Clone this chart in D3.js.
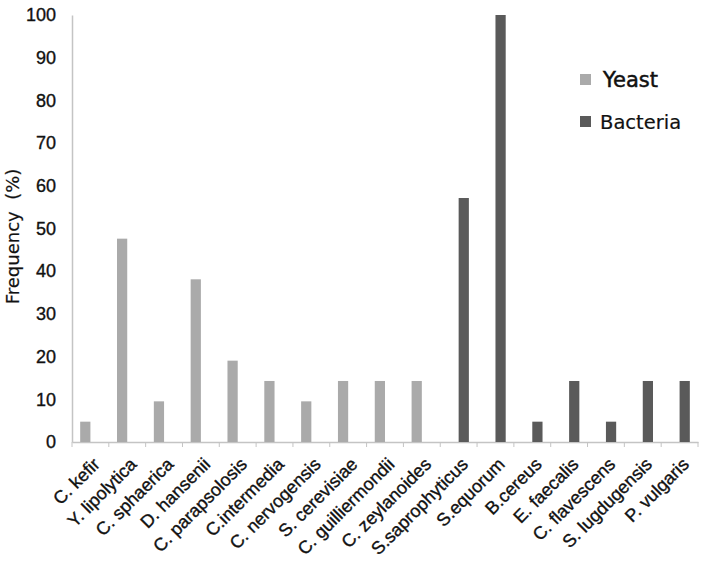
<html>
<head>
  <meta charset="utf-8">
  <title>Frequency of yeast and bacteria</title>
  <style>
    body { margin: 0; background: #fff; }
    .axis text { font: 18px "Liberation Sans", Arial, sans-serif; fill: #111; stroke: #111; stroke-width: 0.35px; }
  </style>
  <script src="https://d3js.org/d3.v7.min.js"></script>
</head>
<body>
  <div id="chart"></div>
  <script>
    // species on the x axis
    var species = ["C. kefir", "Y. lipolytica", "C. sphaerica", "D. hansenii", "C. parapsolosis",
      "C.intermedia", "C. nervogensis", "S. cerevisiae", "C. guilliermondii", "C. zeylanoides",
      "S.saprophyticus", "S.equorum", "B.cereus", "E. faecalis", "C. flavescens", "S. lugdugensis", "P. vulgaris"];

    // frequency (%) per series, null where the series has no bar
    var yeast = [4.76, 47.62, 9.52, 38.1, 19.05, 14.29, 9.52, 14.29, 14.29, 14.29,
      null, null, null, null, null, null, null];
    var bacteria = [null, null, null, null, null, null, null, null, null, null,
      57.14, 100, 4.76, 14.29, 4.76, 14.29, 14.29];

    var seriesNames = ["Yeast", "Bacteria"];
    var yTicks = [0, 10, 20, 30, 40, 50, 60, 70, 80, 90, 100];

    var margin = { top: 15, right: 10, bottom: 132, left: 72 },
        width = 708 - margin.left - margin.right,
        height = 574 - margin.top - margin.bottom;

    var svg = d3.select("#chart").append("svg")
        .attr("width", 708)
        .attr("height", 574)
      .append("g")
        .attr("transform", "translate(" + margin.left + "," + margin.top + ")");

    var x0 = d3.scaleBand().domain(species).range([0, width]).padding(0);
    var x1 = d3.scaleBand().domain(seriesNames).range([0, x0.bandwidth()])
        .paddingInner(0).paddingOuter(0.8);
    var y = d3.scaleLinear().domain([0, 100]).range([height, 0]);

    var color = d3.scaleOrdinal().domain(seriesNames).range(["#aaaaaa", "#5a5a5a"]);

    // y axis (line only, no ticks)
    var yAxis = svg.append("g")
        .attr("class", "axis")
        .call(d3.axisLeft(y).tickValues(yTicks).tickSize(0).tickPadding(16));
    yAxis.select(".domain").attr("stroke", "#c4c4c4").attr("stroke-width", 1.5);

    // x axis with ticks at the band edges
    var xAxis = svg.append("g")
        .attr("class", "axis")
        .attr("transform", "translate(0," + height + ")")
        .call(d3.axisBottom(x0).tickSize(0).tickSizeOuter(0));
    xAxis.select(".domain").attr("stroke", "#c4c4c4").attr("stroke-width", 1.5);
    xAxis.selectAll(".tick text")
        .attr("text-anchor", "end")
        .attr("transform", "translate(6,19) rotate(-45)")
        .attr("dy", "0.35em")
        .attr("y", 0);

    svg.append("g").selectAll("line")
        .data(d3.range(species.length + 1))
        .enter().append("line")
        .attr("x1", function(i) { return i * x0.step(); })
        .attr("x2", function(i) { return i * x0.step(); })
        .attr("y1", height)
        .attr("y2", height + 5)
        .attr("stroke", "#c4c4c4");

    // bars
    var rows = species.map(function(s, i) {
      return { name: s, values: [
        { series: "Yeast", value: yeast[i] },
        { series: "Bacteria", value: bacteria[i] }
      ] };
    });

    var groups = svg.selectAll(".group")
        .data(rows)
        .enter().append("g")
        .attr("class", "group")
        .attr("transform", function(d) { return "translate(" + x0(d.name) + ",0)"; });

    groups.selectAll("rect")
        .data(function(d) { return d.values.filter(function(v) { return v.value != null; }); })
        .enter().append("rect")
        .attr("x", function(d) { return x1(d.series); })
        .attr("y", function(d) { return y(d.value); })
        .attr("width", x1.bandwidth())
        .attr("height", function(d) { return height - y(d.value); })
        .attr("fill", function(d) { return color(d.series); });

    // y label
    svg.append("text")
        .attr("transform", "translate(" + (-53) + "," + (height / 2 + 8) + ") rotate(-90)")
        .attr("text-anchor", "middle")
        .style("font", "18px 'DejaVu Sans', sans-serif")
        .style("white-space", "pre")
        .attr("fill", "#111")
        .attr("stroke", "#111")
        .attr("stroke-width", 0.2)
        .text("Frequency  (%)");

    // legend
    var legend = svg.selectAll(".legend")
        .data(seriesNames)
        .enter().append("g")
        .attr("class", "legend")
        .attr("transform", function(d, i) { return "translate(" + (508) + "," + (59 + i * 42) + ")"; });

    legend.append("rect")
        .attr("width", 11)
        .attr("height", 11)
        .attr("fill", color);

    legend.append("text")
        .attr("x", function(d, i) { return i === 0 ? 23 : 20; })
        .attr("y", 6)
        .attr("dy", "0.35em")
        .style("font-family", "'DejaVu Sans', sans-serif")
        .style("font-size", function(d, i) { return i === 0 ? "21px" : "19.5px"; })
        .attr("fill", "#111")
        .attr("stroke", "#111")
        .attr("stroke-width", function(d, i) { return i === 0 ? 0.5 : 0.2; })
        .text(function(d) { return d; });
  </script>
</body>
</html>
